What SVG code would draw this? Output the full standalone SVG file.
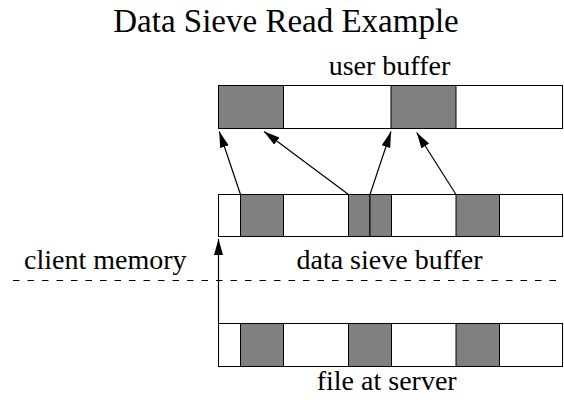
<svg xmlns="http://www.w3.org/2000/svg" width="564" height="403" viewBox="0 0 564 403" font-family="'Liberation Serif', 'DejaVu Serif', serif">
<defs>
<style>
.t{font-family:'Liberation Serif','DejaVu Serif',serif;fill:#000}
.lbl{font-size:28px}
.box{fill:#fff;stroke:#000;stroke-width:1}
.blk{fill:#808080;stroke:#000;stroke-width:1}
.con{stroke:#000;stroke-width:1.2;fill:none;marker-end:url(#ah)}
</style>
<marker id="ah" markerUnits="userSpaceOnUse" markerWidth="17" markerHeight="10" refX="16" refY="4.5" orient="auto">
<path d="M0,0 L16,4.5 L0,9 Z" fill="#000"/>
</marker>
</defs>
<rect width="564" height="403" fill="#fff"/>
<text id="title" class="t" x="286" y="32" font-size="33" text-anchor="middle" font-family="'Liberation Serif', 'DejaVu Serif', serif">Data Sieve Read Example</text>
<g id="user-buffer">
<rect class="box" x="218.5" y="85.5" width="344" height="43"/>
<rect class="blk" x="218.5" y="85.5" width="65" height="43"/>
<rect class="blk" x="391" y="85.5" width="65" height="43"/>
<text class="t lbl" x="389.5" y="75" text-anchor="middle" font-family="'Liberation Serif', 'DejaVu Serif', serif">user buffer</text>
</g>
<g id="sieve-buffer">
<rect class="box" x="218.5" y="194.5" width="344" height="42"/>
<rect class="blk" x="240.5" y="194.5" width="43" height="42"/>
<rect class="blk" x="348.5" y="194.5" width="21.5" height="42"/>
<rect class="blk" x="370" y="194.5" width="21.5" height="42"/>
<rect class="blk" x="456" y="194.5" width="43.5" height="42"/>
<text class="t lbl" x="389.5" y="269" text-anchor="middle" font-family="'Liberation Serif', 'DejaVu Serif', serif">data sieve buffer</text>
</g>
<g id="file-server">
<rect class="box" x="218.5" y="323.5" width="344" height="43"/>
<rect class="blk" x="240.5" y="323.5" width="43" height="43"/>
<rect class="blk" x="348.5" y="323.5" width="43" height="43"/>
<rect class="blk" x="456" y="323.5" width="43.5" height="43"/>
<text class="t lbl" x="386.7" y="390" text-anchor="middle" font-family="'Liberation Serif', 'DejaVu Serif', serif">file at server</text>
</g>
<g id="boundary">
<line x1="13" y1="280.5" x2="564" y2="280.5" stroke="#000" stroke-width="1" stroke-dasharray="6.5 8"/>
<text class="t lbl" x="24" y="269" font-family="'Liberation Serif', 'DejaVu Serif', serif">client memory</text>
</g>
<g id="connectors">
<line class="con" x1="240.5" y1="194.5" x2="219.3" y2="131.5"/>
<line class="con" x1="348.5" y1="194.5" x2="264" y2="131.5"/>
<line class="con" x1="370" y1="194.5" x2="391" y2="131.5"/>
<line class="con" x1="456" y1="194.5" x2="416.7" y2="132.5"/>
<line class="con" x1="218.5" y1="323.5" x2="218.5" y2="239"/>
</g>
</svg>
